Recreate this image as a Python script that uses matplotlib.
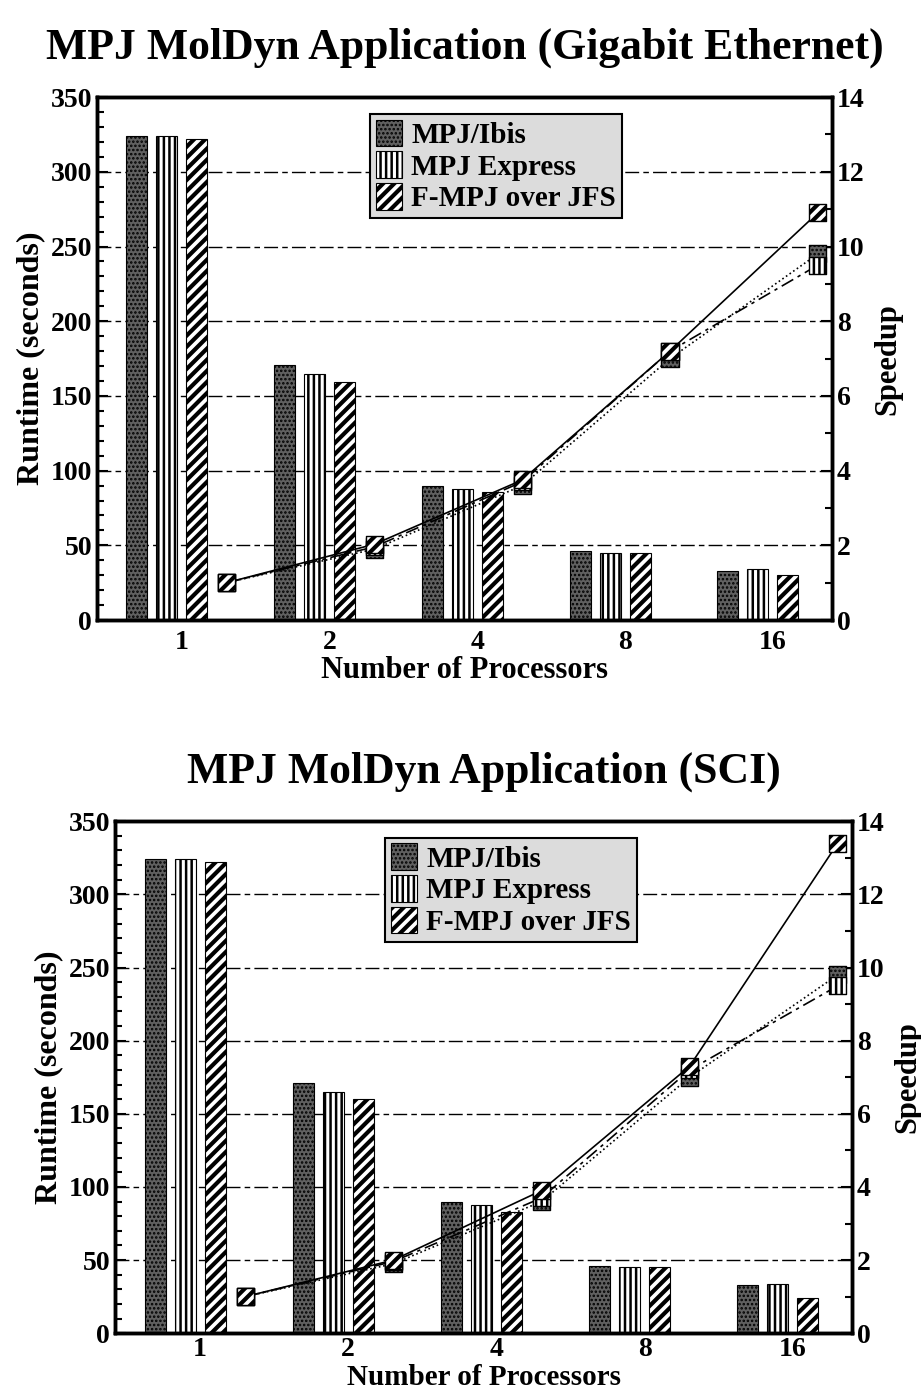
import numpy as np
import matplotlib as mpl
import matplotlib.pyplot as plt

plt.rcParams['font.family'] = ['Liberation Serif', 'DejaVu Serif']
plt.rcParams['font.weight'] = 'bold'

procs = ['1', '2', '4', '8', '16']
series = ['MPJ/Ibis', 'MPJ Express', 'F-MPJ over JFS']

# runtimes (seconds)
gbe_time = {
    'MPJ/Ibis': [324, 171, 90, 46, 33],
    'MPJ Express': [324, 165, 88, 45, 34],
    'F-MPJ over JFS': [322, 159, 86, 45, 30],
}
sci_time = {
    'MPJ/Ibis': [324, 171, 90, 46, 33],
    'MPJ Express': [324, 165, 88, 45, 34],
    'F-MPJ over JFS': [322, 160, 83, 45, 24],
}
# speedups
gbe_speed = {
    'MPJ/Ibis': [1.0, 1.9, 3.6, 7.0, 9.8],
    'MPJ Express': [1.0, 1.96, 3.7, 7.2, 9.5],
    'F-MPJ over JFS': [1.0, 2.03, 3.75, 7.2, 10.9],
}
sci_speed = {
    'MPJ/Ibis': [1.0, 1.9, 3.6, 7.0, 9.8],
    'MPJ Express': [1.0, 1.96, 3.7, 7.2, 9.5],
    'F-MPJ over JFS': [1.0, 2.0, 3.9, 7.3, 13.4],
}

face = {'MPJ/Ibis': '#606060', 'MPJ Express': 'white', 'F-MPJ over JFS': 'white'}
hatch = {'MPJ/Ibis': '....', 'MPJ Express': '|||', 'F-MPJ over JFS': '///'}
hlw = {'MPJ/Ibis': 1.2, 'MPJ Express': 1.8, 'F-MPJ over JFS': 3.0}
lstyle = {'MPJ/Ibis': ':', 'MPJ Express': (0, (8, 3, 2, 3)), 'F-MPJ over JFS': '-'}

slot = 0.2027
bw = 0.142
fs_tick = 20


def draw(rect, title, times, speeds, legpos, tpad, xpad, xfs):
    ax = fig.add_axes(rect)
    x = np.arange(len(procs))
    for i, s in enumerate(series):
        with mpl.rc_context({'hatch.linewidth': hlw[s]}):
            ax.bar(x + (i - 1.5) * slot, times[s], bw, color=face[s], hatch=hatch[s],
                   edgecolor='black', linewidth=0.8, label=s, zorder=2)
    ax.set_xlim(-0.574, 4.40)
    ax.set_ylim(0, 350)
    ax.set_yticks(np.arange(0, 351, 50))
    ax.set_yticks(np.arange(0, 351, 10), minor=True)
    ax.set_xticks(x)
    ax.set_xticklabels(procs)
    for yv in range(50, 350, 50):
        ax.axhline(yv, color='black', lw=1.0, ls=(0, (10, 3, 4, 3)), zorder=1)
    ax.tick_params(axis='y', which='both', direction='in', labelsize=fs_tick, width=1.5)
    ax.tick_params(axis='y', which='major', length=8)
    ax.tick_params(axis='y', which='minor', length=5)
    ax.tick_params(axis='x', length=0, labelsize=fs_tick, pad=tpad)
    ax.set_ylabel('Runtime (seconds)', fontsize=23, fontweight='bold', labelpad=4)
    ax.set_xlabel('Number of Processors', fontsize=xfs, fontweight='bold', labelpad=xpad)
    for sp in ax.spines.values():
        sp.set_linewidth(2.5)
    ax.set_title(title, fontsize=31.5, fontweight='bold', pad=28)
    leg = ax.legend(loc='upper left', bbox_to_anchor=legpos, fontsize=21, frameon=True,
                    fancybox=False, edgecolor='black', facecolor='#dcdcdc', framealpha=1,
                    handlelength=0.9, handleheight=1.0, handletextpad=0.3,
                    labelspacing=0.1, borderpad=0.2, borderaxespad=0.3)
    leg.get_frame().set_linewidth(1.5)
    for p, s in zip(leg.get_patches(), series):
        if hasattr(p, 'set_hatch_linewidth'):
            p.set_hatch_linewidth(hlw[s])

    ax2 = ax.twinx()
    ax2.set_ylim(0, 14)
    ax2.set_yticks(np.arange(0, 15, 2))
    ax2.set_yticks(np.arange(0, 15, 1), minor=True)
    ax2.tick_params(axis='y', which='both', direction='in', labelsize=fs_tick, width=1.5)
    ax2.tick_params(axis='y', which='major', length=8)
    ax2.tick_params(axis='y', which='minor', length=5)
    ax2.set_ylabel('Speedup', fontsize=22, fontweight='bold', labelpad=6)
    for sp in ax2.spines.values():
        sp.set_linewidth(2.5)
    xm = x + 1.5 * slot
    for s in series:
        ax2.plot(xm, speeds[s], color='black', lw=1.2, ls=lstyle[s], zorder=3)
    for s in series:
        with mpl.rc_context({'hatch.linewidth': hlw[s]}):
            ax2.scatter(xm, speeds[s], marker='s', s=150, facecolor=face[s], hatch=hatch[s],
                        edgecolor='black', linewidth=1.0, zorder=4)
    return ax


fig = plt.figure(figsize=(9.21, 13.99), dpi=100)
draw([0.1053, 0.5568, 0.798, 0.3738], 'MPJ MolDyn Application (Gigabit Ethernet)',
     gbe_time, gbe_speed, (0.36, 0.985), 7, 1, 22)
draw([0.1249, 0.047, 0.8002, 0.366], 'MPJ MolDyn Application (SCI)',
     sci_time, sci_speed, (0.355, 0.985), 3, 1, 21)
fig.savefig('out.png', dpi=100)
